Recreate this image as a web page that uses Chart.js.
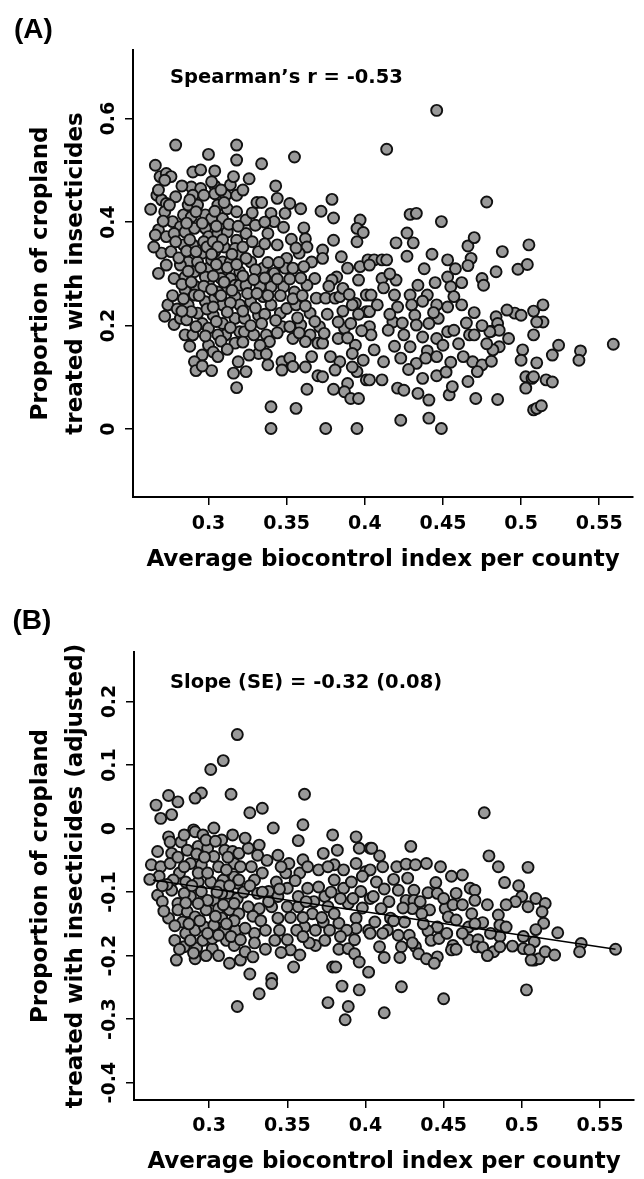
<!DOCTYPE html>
<html>
<head>
<meta charset="utf-8">
<script src="https://cdn.jsdelivr.net/npm/chart.js@4.4.1/dist/chart.umd.min.js"></script>
<style>
  html, body { margin: 0; padding: 0; background: #fff; }
  #wrap { position: relative; width: 644px; height: 1179px; }
  canvas { position: absolute; left: 0; }
  #chartA { top: 0; }
  #chartB { top: 590px; }
</style>
</head>
<body>
<div id="wrap">
  <canvas id="chartA" width="644" height="590"></canvas>
  <canvas id="chartB" width="644" height="589"></canvas>
</div>
<script>
// (A) county average biocontrol index vs proportion treated with insecticides
const pointsA = [
  [0.279,0.549],[0.266,0.510],[0.269,0.488],[0.273,0.494],[0.276,0.488],[0.272,0.481],[0.318,0.549],[0.318,0.520],
  [0.300,0.531],[0.290,0.497],[0.295,0.501],[0.304,0.499],[0.289,0.468],[0.295,0.465],[0.304,0.470],[0.290,0.452],
  [0.304,0.455],[0.311,0.452],[0.314,0.472],[0.318,0.452],[0.267,0.452],[0.270,0.443],[0.273,0.436],[0.279,0.449],
  [0.272,0.420],[0.263,0.425],[0.275,0.433],[0.284,0.414],[0.289,0.410],[0.298,0.414],[0.302,0.407],[0.309,0.407],
  [0.277,0.401],[0.282,0.391],[0.268,0.385],[0.266,0.375],[0.273,0.372],[0.278,0.378],[0.285,0.381],[0.291,0.388],
  [0.298,0.388],[0.300,0.372],[0.306,0.378],[0.312,0.381],[0.318,0.365],[0.270,0.340],[0.276,0.343],[0.273,0.317],
  [0.284,0.356],[0.290,0.356],[0.296,0.340],[0.304,0.343],[0.310,0.352],[0.317,0.349],[0.320,0.336],[0.278,0.291],
  [0.285,0.294],[0.291,0.304],[0.300,0.311],[0.306,0.304],[0.314,0.291],[0.317,0.278],[0.285,0.269],[0.292,0.275],
  [0.300,0.285],[0.308,0.291],[0.311,0.272],[0.291,0.259],[0.298,0.246],[0.304,0.253],[0.309,0.240],[0.317,0.256],
  [0.320,0.240],[0.274,0.240],[0.278,0.202],[0.282,0.214],[0.286,0.211],[0.293,0.224],[0.296,0.204],[0.300,0.195],
  [0.303,0.220],[0.309,0.204],[0.317,0.214],[0.311,0.182],[0.320,0.188],[0.285,0.182],[0.290,0.182],[0.300,0.162],
  [0.303,0.149],[0.296,0.143],[0.291,0.130],[0.292,0.113],[0.302,0.113],[0.316,0.108],[0.318,0.080],[0.317,0.166],
  [0.319,0.130],[0.287,0.433],[0.293,0.433],[0.306,0.433],[0.312,0.426],[0.287,0.323],[0.293,0.323],[0.309,0.323],
  [0.282,0.317],[0.302,0.327],[0.298,0.294],[0.287,0.240],[0.306,0.265],[0.314,0.323],[0.320,0.304],[0.320,0.278],
  [0.289,0.227],[0.306,0.182],
  [0.334,0.513],[0.355,0.526],[0.326,0.484],[0.343,0.470],[0.344,0.446],[0.352,0.436],[0.359,0.426],[0.379,0.444],
  [0.372,0.421],[0.380,0.408],[0.331,0.438],[0.334,0.438],[0.340,0.417],[0.349,0.417],[0.342,0.401],[0.324,0.404],
  [0.330,0.394],[0.324,0.378],[0.338,0.378],[0.361,0.389],[0.353,0.367],[0.362,0.368],[0.363,0.352],[0.380,0.365],
  [0.397,0.404],[0.395,0.388],[0.399,0.380],[0.395,0.362],[0.332,0.343],[0.327,0.323],[0.335,0.311],[0.342,0.301],
  [0.350,0.330],[0.358,0.340],[0.366,0.323],[0.373,0.346],[0.373,0.330],[0.385,0.333],[0.389,0.311],[0.397,0.314],
  [0.402,0.327],[0.382,0.294],[0.379,0.288],[0.396,0.288],[0.349,0.311],[0.354,0.311],[0.361,0.314],[0.368,0.291],
  [0.363,0.278],[0.355,0.265],[0.348,0.275],[0.340,0.275],[0.333,0.275],[0.324,0.278],[0.327,0.246],[0.335,0.256],
  [0.340,0.240],[0.346,0.224],[0.350,0.233],[0.356,0.240],[0.365,0.224],[0.369,0.253],[0.375,0.253],[0.381,0.253],
  [0.384,0.256],[0.394,0.243],[0.401,0.259],[0.401,0.227],[0.392,0.240],[0.323,0.214],[0.332,0.220],[0.323,0.188],
  [0.329,0.182],[0.337,0.182],[0.347,0.198],[0.352,0.198],[0.359,0.201],[0.371,0.198],[0.365,0.182],[0.362,0.169],
  [0.370,0.166],[0.373,0.166],[0.354,0.175],[0.339,0.169],[0.332,0.146],[0.326,0.143],[0.338,0.124],[0.347,0.130],
  [0.352,0.137],[0.347,0.114],[0.354,0.121],[0.340,0.043],[0.356,0.040],[0.340,0.001],[0.363,0.077],[0.370,0.103],
  [0.373,0.101],[0.380,0.077],[0.383,0.175],[0.387,0.195],[0.383,0.207],[0.391,0.204],[0.394,0.162],[0.392,0.146],
  [0.399,0.133],[0.395,0.111],[0.389,0.088],[0.387,0.072],[0.391,0.059],[0.396,0.059],[0.384,0.130],[0.381,0.114],
  [0.401,0.095],[0.375,0.001],[0.395,0.001],[0.324,0.111],
  [0.446,0.616],[0.414,0.541],[0.478,0.439],[0.429,0.415],[0.433,0.417],[0.449,0.401],[0.427,0.379],[0.420,0.360],
  [0.431,0.360],[0.427,0.334],[0.443,0.338],[0.453,0.327],[0.466,0.354],[0.470,0.370],[0.468,0.330],[0.466,0.316],
  [0.488,0.343],[0.484,0.304],[0.406,0.327],[0.411,0.327],[0.414,0.327],[0.403,0.317],[0.411,0.291],[0.420,0.288],
  [0.412,0.273],[0.404,0.259],[0.419,0.259],[0.429,0.259],[0.434,0.278],[0.440,0.259],[0.445,0.283],[0.453,0.294],
  [0.455,0.275],[0.462,0.283],[0.457,0.256],[0.453,0.236],[0.446,0.240],[0.447,0.214],[0.430,0.240],[0.421,0.236],
  [0.432,0.220],[0.403,0.227],[0.475,0.291],[0.476,0.278],[0.470,0.225],[0.484,0.217],[0.485,0.204],[0.481,0.189],
  [0.486,0.191],[0.441,0.204],[0.433,0.201],[0.418,0.207],[0.403,0.198],[0.404,0.182],[0.415,0.191],[0.425,0.182],
  [0.437,0.178],[0.446,0.175],[0.453,0.188],[0.457,0.191],[0.450,0.162],[0.467,0.182],[0.470,0.182],[0.480,0.188],
  [0.429,0.159],[0.440,0.151],[0.406,0.153],[0.412,0.130],[0.423,0.137],[0.433,0.127],[0.439,0.137],[0.446,0.140],
  [0.455,0.129],[0.469,0.130],[0.475,0.124],[0.481,0.131],[0.486,0.159],[0.482,0.153],[0.472,0.111],[0.403,0.095],
  [0.411,0.095],[0.421,0.079],[0.425,0.075],[0.434,0.069],[0.437,0.098],[0.446,0.103],[0.441,0.056],[0.454,0.066],
  [0.456,0.082],[0.466,0.092],[0.471,0.059],[0.485,0.057],[0.423,0.017],[0.441,0.021],[0.449,0.001],
  [0.498,0.309],[0.505,0.356],[0.504,0.318],[0.496,0.224],[0.500,0.220],[0.508,0.228],[0.514,0.240],[0.514,0.207],
  [0.510,0.207],[0.508,0.182],[0.501,0.153],[0.500,0.133],[0.510,0.128],[0.503,0.101],[0.507,0.098],[0.503,0.079],
  [0.508,0.101],[0.516,0.095],[0.520,0.091],[0.520,0.143],[0.524,0.162],[0.508,0.037],[0.510,0.040],[0.513,0.045],
  [0.538,0.151],[0.537,0.133],[0.559,0.164],
  // denser core of the cloud
  [0.268,0.462],[0.271,0.402],[0.279,0.362],[0.265,0.352],[0.281,0.331],[0.268,0.301],[0.283,0.280],[0.277,0.258],
  [0.280,0.232],[0.272,0.218],[0.283,0.470],[0.288,0.443],[0.297,0.452],[0.292,0.420],[0.286,0.398],[0.296,0.398],
  [0.288,0.366],[0.297,0.362],[0.286,0.344],[0.292,0.343],[0.299,0.352],[0.287,0.305],[0.295,0.312],[0.289,0.284],
  [0.297,0.276],[0.284,0.252],[0.294,0.258],[0.299,0.232],[0.283,0.228],[0.292,0.198],[0.298,0.180],[0.288,0.160],
  [0.296,0.122],[0.302,0.478],[0.308,0.462],[0.316,0.488],[0.310,0.438],[0.318,0.420],[0.304,0.421],[0.313,0.396],
  [0.305,0.392],[0.319,0.392],[0.303,0.362],[0.309,0.366],[0.315,0.338],[0.306,0.352],[0.302,0.338],[0.312,0.312],
  [0.318,0.318],[0.305,0.318],[0.310,0.284],[0.303,0.296],[0.315,0.268],[0.302,0.270],[0.308,0.258],[0.314,0.244],
  [0.303,0.236],[0.312,0.226],[0.305,0.208],[0.314,0.196],[0.308,0.170],[0.312,0.154],[0.306,0.140],[0.322,0.462],
  [0.328,0.418],[0.336,0.400],[0.322,0.352],[0.328,0.362],[0.336,0.358],[0.324,0.330],[0.330,0.308],[0.338,0.322],
  [0.322,0.296],[0.329,0.289],[0.336,0.292],[0.325,0.262],[0.331,0.262],[0.338,0.258],[0.322,0.228],[0.330,0.234],
  [0.336,0.222],[0.327,0.200],[0.334,0.204],[0.322,0.168],[0.333,0.162],[0.337,0.145],[0.344,0.356],[0.348,0.390],
  [0.356,0.350],[0.345,0.322],[0.352,0.290],[0.359,0.292],[0.344,0.290],[0.346,0.258],[0.354,0.252],[0.360,0.258],
  [0.343,0.210],[0.357,0.215],[0.362,0.238],[0.358,0.186],[0.344,0.186],[0.368,0.208],[0.376,0.222],[0.374,0.185],
  [0.377,0.276],[0.386,0.272],[0.390,0.260],[0.386,0.228],[0.396,0.222],[0.389,0.176],[0.398,0.190],[0.392,0.120],
  [0.366,0.140],[0.378,0.140],[0.362,0.120],[0.408,0.240],[0.416,0.222],[0.424,0.205],[0.437,0.247],[0.444,0.225],
  [0.462,0.240],[0.465,0.205],[0.475,0.200],[0.460,0.165],[0.419,0.160],[0.428,0.115],[0.452,0.110],[0.463,0.140],
  [0.416,0.300],[0.438,0.310],[0.458,0.310],[0.491,0.230],[0.492,0.175],[0.478,0.165]
];

// (B) same counties, proportion adjusted for covariates
const pointsB = [
  [0.318,0.148],[0.309,0.107],[0.301,0.093],[0.295,0.056],[0.291,0.048],[0.314,0.054],[0.266,0.037],[0.274,0.052],
  [0.280,0.042],[0.269,0.016],[0.276,0.022],[0.290,-0.002],[0.291,-0.005],[0.296,-0.010],[0.303,0.001],[0.308,-0.018],
  [0.315,-0.010],[0.274,-0.013],[0.275,-0.021],[0.282,-0.021],[0.267,-0.036],[0.276,-0.039],[0.286,-0.034],[0.293,-0.028],
  [0.299,-0.031],[0.310,-0.034],[0.315,-0.036],[0.263,-0.057],[0.269,-0.060],[0.275,-0.055],[0.281,-0.070],[0.288,-0.055],
  [0.295,-0.057],[0.303,-0.044],[0.306,-0.060],[0.316,-0.055],[0.277,-0.081],[0.285,-0.084],[0.293,-0.084],[0.301,-0.084],
  [0.309,-0.081],[0.316,-0.076],[0.267,-0.105],[0.270,-0.115],[0.276,-0.097],[0.280,-0.118],[0.288,-0.107],[0.295,-0.099],
  [0.303,-0.113],[0.312,-0.102],[0.318,-0.110],[0.274,-0.141],[0.280,-0.128],[0.286,-0.131],[0.283,-0.147],[0.291,-0.139],
  [0.298,-0.128],[0.306,-0.126],[0.313,-0.128],[0.319,-0.134],[0.285,-0.165],[0.291,-0.160],[0.297,-0.155],[0.303,-0.152],
  [0.310,-0.160],[0.317,-0.160],[0.284,-0.186],[0.292,-0.188],[0.302,-0.189],[0.296,-0.176],[0.302,-0.173],[0.311,-0.176],
  [0.316,-0.184],[0.279,-0.207],[0.291,-0.205],[0.313,-0.212],[0.318,-0.280],[0.320,-0.207],[0.293,-0.070],[0.299,-0.070],
  [0.311,-0.065],[0.284,-0.102],[0.299,-0.113],[0.308,-0.102],[0.293,-0.118],[0.308,-0.141],[0.288,-0.176],[0.278,-0.176],
  [0.318,-0.086],[0.319,-0.039],
  [0.361,0.054],[0.326,0.025],[0.334,0.032],[0.341,0.001],[0.360,0.006],[0.357,-0.019],[0.379,-0.010],[0.394,-0.013],
  [0.396,-0.031],[0.403,-0.031],[0.325,-0.031],[0.332,-0.026],[0.331,-0.042],[0.344,-0.042],[0.373,-0.039],[0.382,-0.034],
  [0.380,-0.057],[0.394,-0.055],[0.400,-0.068],[0.327,-0.060],[0.334,-0.070],[0.319,-0.081],[0.329,-0.081],[0.338,-0.099],
  [0.343,-0.084],[0.349,-0.070],[0.351,-0.055],[0.358,-0.070],[0.360,-0.049],[0.363,-0.060],[0.350,-0.094],[0.363,-0.094],
  [0.374,-0.107],[0.367,-0.115],[0.380,-0.081],[0.386,-0.094],[0.391,-0.084],[0.397,-0.099],[0.403,-0.110],[0.325,-0.123],
  [0.332,-0.126],[0.340,-0.123],[0.350,-0.123],[0.357,-0.123],[0.344,-0.141],[0.336,-0.160],[0.329,-0.165],[0.323,-0.157],
  [0.345,-0.160],[0.361,-0.155],[0.356,-0.160],[0.368,-0.160],[0.373,-0.147],[0.383,-0.149],[0.394,-0.141],[0.394,-0.157],
  [0.402,-0.160],[0.342,-0.176],[0.368,-0.184],[0.374,-0.176],[0.383,-0.190],[0.389,-0.189],[0.393,-0.197],[0.396,-0.210],
  [0.323,-0.194],[0.328,-0.202],[0.352,-0.191],[0.358,-0.199],[0.354,-0.218],[0.340,-0.236],[0.340,-0.244],[0.326,-0.229],
  [0.332,-0.260],[0.379,-0.218],[0.381,-0.218],[0.402,-0.226],[0.385,-0.248],[0.396,-0.254],[0.376,-0.274],[0.389,-0.280],
  [0.387,-0.301],[0.331,-0.102],[0.344,-0.107],[0.357,-0.107],[0.370,-0.092],[0.376,-0.123],[0.389,-0.118],[0.380,-0.134],
  [0.366,-0.134],
  [0.476,0.025],[0.479,-0.043],[0.485,-0.060],[0.489,-0.085],[0.462,-0.073],[0.429,-0.028],[0.409,-0.043],[0.411,-0.060],
  [0.420,-0.060],[0.426,-0.056],[0.432,-0.057],[0.439,-0.055],[0.404,-0.031],[0.403,-0.065],[0.407,-0.084],[0.427,-0.078],
  [0.421,-0.097],[0.431,-0.097],[0.440,-0.101],[0.446,-0.102],[0.458,-0.102],[0.467,-0.094],[0.470,-0.097],[0.470,-0.113],
  [0.405,-0.107],[0.415,-0.115],[0.426,-0.113],[0.431,-0.113],[0.430,-0.126],[0.441,-0.128],[0.451,-0.126],[0.456,-0.120],
  [0.410,-0.126],[0.406,-0.147],[0.416,-0.141],[0.425,-0.147],[0.436,-0.134],[0.446,-0.155],[0.453,-0.139],[0.458,-0.144],
  [0.468,-0.134],[0.475,-0.148],[0.485,-0.136],[0.486,-0.152],[0.466,-0.155],[0.440,-0.161],[0.414,-0.160],[0.403,-0.165],
  [0.421,-0.168],[0.428,-0.168],[0.442,-0.176],[0.447,-0.173],[0.456,-0.184],[0.466,-0.175],[0.472,-0.175],[0.486,-0.170],
  [0.409,-0.186],[0.423,-0.186],[0.432,-0.186],[0.471,-0.186],[0.475,-0.187],[0.482,-0.194],[0.486,-0.186],[0.412,-0.203],
  [0.422,-0.203],[0.434,-0.197],[0.439,-0.205],[0.446,-0.202],[0.455,-0.191],[0.444,-0.212],[0.423,-0.249],[0.450,-0.268],
  [0.412,-0.290],
  [0.498,-0.090],[0.504,-0.061],[0.500,-0.107],[0.496,-0.115],[0.504,-0.123],[0.509,-0.110],[0.515,-0.118],[0.513,-0.131],
  [0.514,-0.149],[0.509,-0.159],[0.501,-0.170],[0.508,-0.178],[0.501,-0.189],[0.505,-0.191],[0.508,-0.207],[0.511,-0.205],
  [0.515,-0.194],[0.521,-0.199],[0.523,-0.164],[0.538,-0.181],[0.537,-0.194],[0.560,-0.190],[0.503,-0.254],[0.506,-0.207],
  // denser core of the cloud
  [0.268,-0.075],[0.273,-0.088],[0.280,-0.045],[0.284,-0.060],[0.271,-0.130],[0.278,-0.153],[0.285,-0.117],[0.289,-0.090],
  [0.292,-0.040],[0.297,-0.045],[0.287,-0.150],[0.294,-0.145],[0.299,-0.165],[0.281,-0.190],[0.290,-0.196],[0.298,-0.200],
  [0.298,-0.018],[0.284,-0.010],[0.270,-0.090],[0.262,-0.080],[0.304,-0.020],[0.312,-0.045],[0.307,-0.090],[0.313,-0.090],
  [0.305,-0.100],[0.316,-0.118],[0.309,-0.120],[0.304,-0.138],[0.316,-0.145],[0.311,-0.150],[0.306,-0.168],[0.314,-0.170],
  [0.306,-0.200],[0.320,-0.175],[0.320,-0.060],[0.322,-0.100],[0.326,-0.090],[0.328,-0.138],[0.333,-0.145],[0.329,-0.180],
  [0.336,-0.190],[0.337,-0.050],[0.323,-0.015],[0.338,-0.115],[0.334,-0.100],[0.346,-0.060],[0.345,-0.095],[0.352,-0.140],
  [0.355,-0.082],[0.362,-0.115],[0.360,-0.140],[0.364,-0.180],[0.370,-0.065],[0.376,-0.060],[0.372,-0.140],[0.378,-0.100],
  [0.384,-0.110],[0.386,-0.065],[0.388,-0.160],[0.392,-0.110],[0.398,-0.125],[0.398,-0.075],[0.384,-0.170],[0.346,-0.195],
  [0.350,-0.175],[0.360,-0.170],[0.377,-0.160],[0.393,-0.175],[0.412,-0.095],[0.418,-0.080],[0.424,-0.125],[0.435,-0.115],
  [0.437,-0.150],[0.445,-0.085],[0.450,-0.110],[0.452,-0.165],[0.462,-0.120],[0.462,-0.165],[0.470,-0.150],[0.478,-0.120],
  [0.480,-0.165],[0.490,-0.120],[0.490,-0.155],[0.418,-0.145],[0.411,-0.165],[0.430,-0.180],[0.458,-0.190],[0.494,-0.185],
  [0.478,-0.200],[0.448,-0.060],[0.455,-0.075]
];

// fitted line in (B), read at its two ends
const trendX = [0.264, 0.560];
const trendY = [-0.081, -0.190];

const xTicks = [0.3, 0.35, 0.4, 0.45, 0.5, 0.55];
const xTickLabels = ['0.3', '0.35', '0.4', '0.45', '0.5', '0.55'];
const yTicksA = [0, 0.2, 0.4, 0.6];
const yTickLabelsA = ['0', '0.2', '0.4', '0.6'];
const yTicksB = [-0.4, -0.3, -0.2, -0.1, 0, 0.1, 0.2];
const yTickLabelsB = ['-0.4', '-0.3', '-0.2', '-0.1', '0', '0.1', '0.2'];

const xTitle = 'Average biocontrol index per county';
const yTitleA = ['Proportion of cropland', 'treated with insecticides'];
const yTitleB = ['Proportion of cropland', 'treated with insecticides (adjusted)'];

const FONT = "'DejaVu Sans', 'Liberation Sans', sans-serif";

const notesPlugin = {
  id: 'notes',
  afterDraw(chart, args, opts) {
    const ctx = chart.ctx;
    ctx.save();
    ctx.fillStyle = '#000';
    ctx.textAlign = 'left';
    ctx.textBaseline = 'alphabetic';
    ctx.font = "bold 28px 'Liberation Sans', Arial, sans-serif";
    ctx.fillText(opts.letter, opts.letterX, opts.letterY);
    ctx.font = 'bold 19.5px ' + FONT;
    ctx.fillText(opts.stat, opts.statX, opts.statY);
    ctx.restore();
  }
};

function toXY(pairs) {
  return pairs.map(p => ({ x: p[0], y: p[1] }));
}

function scatterSet(pairs) {
  return {
    type: 'scatter',
    data: toXY(pairs),
    pointRadius: 5.5,
    pointHoverRadius: 5.5,
    pointBorderWidth: 1.9,
    pointBackgroundColor: '#999999',
    pointBorderColor: '#111111',
    order: 1
  };
}

function makePanel(id, o) {
  return new Chart(document.getElementById(id), {
    type: 'scatter',
    data: { datasets: o.datasets },
    options: {
      responsive: false,
      animation: false,
      devicePixelRatio: 1,
      events: [],
      layout: { padding: o.padding },
      plugins: {
        legend: { display: false },
        tooltip: { enabled: false },
        notes: o.notes
      },
      scales: {
        x: {
          type: 'linear',
          min: o.xMin,
          max: o.xMax,
          afterBuildTicks: s => { s.ticks = xTicks.map(v => ({ value: v })); },
          afterFit: s => { s.height = 79; },
          border: { display: true, color: '#000', width: 2 },
          grid: { display: true, drawOnChartArea: false, drawTicks: true, tickLength: 8, color: '#000', lineWidth: 1.5 },
          ticks: {
            color: '#000',
            font: { family: FONT, size: 19, weight: 'bold' },
            padding: o.xTickPad,
            maxRotation: 0,
            autoSkip: false,
            callback: (v, i) => xTickLabels[i]
          },
          title: {
            display: true,
            text: xTitle,
            color: '#000',
            font: { family: FONT, size: 23, weight: 'bold' },
            padding: { top: 0, bottom: o.xTitlePad }
          }
        },
        y: {
          type: 'linear',
          min: o.yMin,
          max: o.yMax,
          afterBuildTicks: s => { s.ticks = o.yTicks.map(v => ({ value: v })); },
          afterFit: s => { s.width = o.yWidth; },
          border: { display: true, color: '#000', width: 2 },
          grid: { display: true, drawOnChartArea: false, drawTicks: true, tickLength: 8, color: '#000', lineWidth: 1.5 },
          ticks: {
            color: '#000',
            font: { family: FONT, size: 19, weight: 'bold' },
            padding: o.yTickPad,
            minRotation: 90,
            maxRotation: 90,
            crossAlign: 'center',
            autoSkip: false,
            callback: (v, i) => o.yTickLabels[i]
          },
          title: {
            display: true,
            text: o.yTitle,
            color: '#000',
            font: { family: FONT, size: 23, weight: 'bold', lineHeight: 1.52 },
            padding: { top: 23.5, bottom: 0 }
          }
        }
      }
    },
    plugins: [notesPlugin]
  });
}

makePanel('chartA', {
  datasets: [scatterSet(pointsA)],
  padding: { top: 50, right: 11, bottom: 14, left: 0 },
  xMin: 0.2517, xMax: 0.5716,
  yMin: -0.1314, yMax: 0.7328,
  yTicks: yTicksA, yTickLabels: yTickLabelsA,
  yTitle: yTitleA,
  yWidth: 133,
  xTickPad: 7.5, xTitlePad: 1.7, yTickPad: -1,
  notes: { letter: '(A)', letterX: 14, letterY: 38, stat: 'Spearman\u2019s r = -0.53', statX: 170, statY: 83 }
});

makePanel('chartB', {
  datasets: [
    {
      type: 'line',
      data: trendX.map((x, i) => ({ x: x, y: trendY[i] })),
      borderColor: '#000',
      borderWidth: 1.5,
      pointRadius: 0,
      fill: false,
      order: 0
    },
    scatterSet(pointsB)
  ],
  padding: { top: 62, right: 10, bottom: 0, left: 0 },
  xMin: 0.2519, xMax: 0.5718,
  yMin: -0.4273, yMax: 0.278,
  yTicks: yTicksB, yTickLabels: yTickLabelsB,
  yTitle: yTitleB,
  yWidth: 134,
  xTickPad: 6.5, xTitlePad: 3, yTickPad: -4.5,
  notes: { letter: '(B)', letterX: 12.5, letterY: 39, stat: 'Slope (SE) = -0.32 (0.08)', statX: 170, statY: 97.5 }
});
</script>
</body>
</html>
